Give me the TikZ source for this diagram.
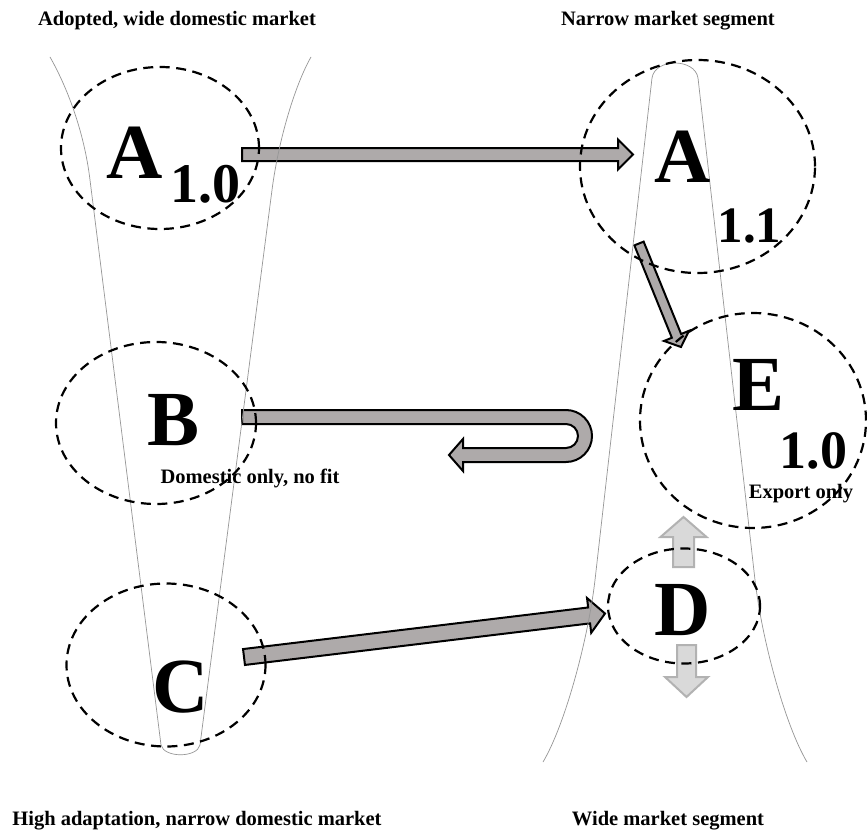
\documentclass[tikz,border=0pt]{standalone}
\usepackage{fontspec}
\setmainfont{Liberation Serif}
\usetikzlibrary{calc,shapes.geometric}
\definecolor{arrgray}{RGB}{174,170,170}
\definecolor{lfill}{RGB}{217,217,217}
\definecolor{ldraw}{RGB}{178,178,178}
\definecolor{funnelgray}{RGB}{150,150,150}
\newcommand{\blockarrow}[6]{%
  \coordinate (hb) at ($(#3)!#6!(#2)$);
  \draw[#1] ($(#2)!#4!90:(#3)$) -- ($(hb)!#4!90:(#3)$) -- ($(hb)!#5!90:(#3)$) -- (#3)
    -- ($(hb)!#5!-90:(#3)$) -- ($(hb)!#4!-90:(#3)$) -- ($(#2)!#4!-90:(#3)$) -- cycle;}
\tikzset{
  darkarrow/.style={fill=arrgray, draw=black, line width=2pt, line join=miter},
  lightarrow/.style={fill=lfill, draw=ldraw, line width=2pt, line join=miter},
  funnelline/.style={draw=funnelgray, line width=0.7pt},
  dashell/.style={ellipse, draw=black, line width=2.2pt, dash pattern=on 10pt off 6.5pt, inner sep=0pt},
  bigletter/.style={font=\bfseries\fontsize{78}{80}\selectfont, anchor=base, inner sep=0pt},
  subnum/.style={font=\bfseries\fontsize{#1}{#1}\selectfont, anchor=base, inner sep=0pt},
  caption/.style={font=\bfseries\fontsize{20.5}{24}\selectfont, anchor=base, inner sep=0pt}
}
\begin{document}
\begin{tikzpicture}[x=1pt, y=-1pt]
\useasboundingbox[fill=white] (0,0) rectangle (867,832);

% arrow end points
\coordinate (aT) at (242,154.5);
\coordinate (aH) at (633,154.5);
\coordinate (a2T) at (639,243.5);
\coordinate (a2H) at (681,347);
\coordinate (bT) at (242,417);
\coordinate (bH) at (449,455);
\coordinate (cT) at (244,657);
\coordinate (cH) at (605,613.5);
\coordinate (duT) at (683.5,567);
\coordinate (duH) at (683.5,517);
\coordinate (ddT) at (686.5,645);
\coordinate (ddH) at (686.5,697);

% block arrows
\blockarrow{darkarrow}{aT}{aH}{6.5pt}{15pt}{15pt}
\blockarrow{darkarrow}{a2T}{a2H}{5pt}{13.5pt}{12pt}
\draw[darkarrow] ($(bT)+(0,-7)$) -- (566,410) arc[start angle=-90, end angle=90, radius=26]
  -- (463,462) -- (463,471) -- (bH) -- (463,439) -- (463,448) -- (566,448)
  arc[start angle=90, end angle=-90, radius=12] -- ($(bT)+(0,7)$) -- cycle;
\blockarrow{darkarrow}{cT}{cH}{8pt}{17.5pt}{16pt}
\blockarrow{lightarrow}{duT}{duH}{10.5pt}{23pt}{20pt}
\blockarrow{lightarrow}{ddT}{ddH}{9.5pt}{21.5pt}{20pt}

% funnels
\draw[funnelline] (50,57) .. controls (66,85) and (84,130) .. (90,180) -- (161,745)
  .. controls (164,758) and (197,758) .. (200,745) -- (272,190)
  .. controls (278.5,140) and (295,85) .. (311,57);
\draw[funnelline] (543,762) .. controls (565,725) and (588,640) .. (595,580) -- (652,78)
  .. controls (655,58) and (695,58) .. (698,78) -- (755,580)
  .. controls (762,640) and (785,725) .. (807,762);

% dashed ellipses
\node[dashell, minimum width=198pt, minimum height=162pt] (A10) at (160,148) {};
\node[dashell, minimum width=235pt, minimum height=213pt] (A11) at (697.5,166.5) {};
\node[dashell, minimum width=200pt, minimum height=162pt] (B) at (156,423) {};
\node[dashell, minimum width=199pt, minimum height=163pt] (C) at (166,665) {};
\node[dashell, minimum width=226pt, minimum height=215pt] (E) at (753,420.5) {};
\node[dashell, minimum width=152pt, minimum height=115pt] (D) at (684,606) {};

% letters
\node[bigletter] (lA10) at (135,178) {A};
\node[subnum=56] (sA10) at (205,202) {1.0};
\node[bigletter] (lA11) at (683,182) {A};
\node[subnum=51] (sA11) at (749.5,242) {1.1};
\node[bigletter] (lB) at (173.5,445) {B};
\node[bigletter] (lC) at (180.5,712) {C};
\node[bigletter] (lE) at (758.5,410) {E};
\node[subnum=54] (sE) at (813.5,468) {1.0};
\node[bigletter] (lD) at (682.5,635) {D};

% captions
\node[caption] (t1) at (177,26) {Adopted, wide domestic market};
\node[caption] (t2) at (668,26) {Narrow market segment};
\node[caption] (t3) at (197,825) {High adaptation, narrow domestic market};
\node[caption] (t4) at (668,825) {Wide market segment};
\node[caption] (tB) at (250,483) {Domestic only, no fit};
\node[caption] (tE) at (801,498) {Export only};
\end{tikzpicture}
\end{document}
